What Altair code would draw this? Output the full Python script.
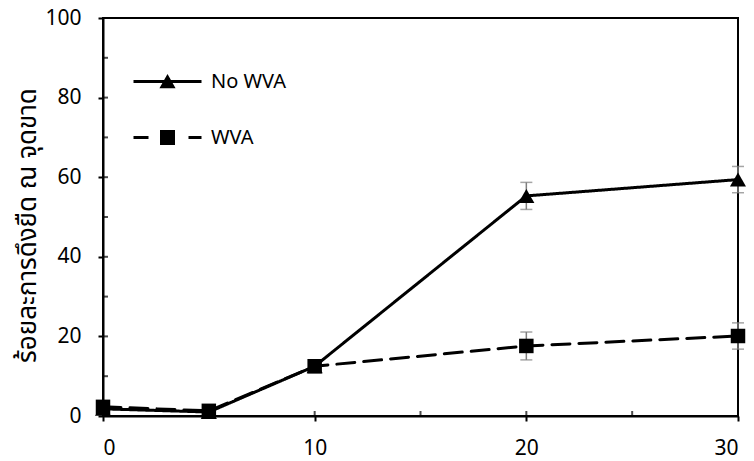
import altair as alt
import pandas as pd

# ---- data ----
x_vals = [0, 5, 10, 20, 30]
series_names = ["No WVA", "WVA"]
no_wva = [1.8, 1.0, 12.5, 55.3, 59.4]
no_wva_err = [0.5, 0.4, 1.0, 3.4, 3.3]
wva = [2.3, 1.3, 12.5, 17.6, 20.1]
wva_err = [0.5, 0.4, 1.0, 3.5, 3.3]

x_ticks = [0, 5, 10, 15, 20, 25, 30]
y_ticks = [0, 10, 20, 30, 40, 50, 60, 70, 80, 90, 100]
y_title = "ร้อยละการดึงยืด ณ จุดขาด"

rows = []
for name, vals, errs in [("No WVA", no_wva, no_wva_err), ("WVA", wva, wva_err)]:
    for xv, v, e in zip(x_vals, vals, errs):
        rows.append({"x": xv, "y": v, "lo": v - e, "hi": v + e, "series": name})
df = pd.DataFrame(rows)
xt_df = pd.DataFrame({"x": x_ticks})
yt_df = pd.DataFrame({"y": y_ticks})

W, H = 635, 398
FONT = "Noto Sans"
THAI_FONT = "Noto Sans Thai, Noto Sans Thai UI, Loma, Garuda, Noto Sans, sans-serif"

x_enc = alt.X(
    "x:Q",
    scale=alt.Scale(domain=[0, 30], nice=False),
    axis=alt.Axis(
        values=x_ticks,
        title=None,
        labelExpr="datum.value % 10 === 0 ? datum.label : ''",
        tickOpacity={"condition": {"test": "datum.value % 10 !== 0", "value": 0}, "value": 1},
        grid=False,
        labelPadding=16,
    ),
)
y_enc = alt.Y(
    "y:Q",
    scale=alt.Scale(domain=[0, 100], nice=False),
    axis=alt.Axis(
        values=y_ticks,
        title=y_title,
        titleFont=THAI_FONT,
        titleFontSize=26,
        titleFontWeight="normal",
        titlePadding=4,
        titleY=207,
        labelExpr="datum.value % 20 === 0 ? datum.label : ''",
        tickOpacity={"condition": {"test": "datum.value % 20 !== 0", "value": 0}, "value": 1},
        grid=False,
        labelPadding=17,
    ),
)

base = alt.Chart(df)

# inner tick stubs (Excel style: major ticks cross the axis, minor ticks inside)
x_inner = alt.Chart(xt_df).mark_tick(
    color="black", thickness=2, size=5, orient="vertical", yOffset=-2.5
).encode(x=x_enc, y=alt.datum(0))
y_inner = alt.Chart(yt_df).mark_tick(
    color="black", thickness=2, size=5, orient="horizontal", xOffset=2.5
).encode(y=y_enc, x=alt.datum(0))

err_rule = base.mark_rule(color="#7f7f7f", strokeWidth=1.5).encode(
    x="x:Q", y="lo:Q", y2="hi:Q"
)
cap_lo = base.mark_tick(color="#7f7f7f", thickness=1.5, size=12, orient="horizontal").encode(
    x="x:Q", y="lo:Q"
)
cap_hi = base.mark_tick(color="#7f7f7f", thickness=1.5, size=12, orient="horizontal").encode(
    x="x:Q", y="hi:Q"
)

lines = base.mark_line(color="black", strokeWidth=3, strokeCap="round").encode(
    x="x:Q",
    y="y:Q",
    strokeDash=alt.StrokeDash(
        "series:N",
        scale=alt.Scale(domain=series_names, range=[[1, 0], [18, 9]]),
        legend=None,
    ),
)

points = base.mark_point(filled=True, opacity=1, color="black").encode(
    x="x:Q",
    y="y:Q",
    shape=alt.Shape(
        "series:N",
        scale=alt.Scale(domain=series_names, range=["triangle-up", "square"]),
        legend=None,
    ),
    size=alt.Size(
        "series:N",
        scale=alt.Scale(domain=series_names, range=[260, 210]),
        legend=None,
    ),
)

# legend symbols: line (solid / dashed) with a marker, drawn with strokes only
legend_paths = [
    "M-3.4,0L3.4,0"
    "M0,-0.45L0.55,0.52L-0.55,0.52Z"
    "M-0.17,-0.15L0.17,-0.15M-0.31,0.1L0.31,0.1M-0.45,0.35L0.45,0.35",
    "M-3.4,0L-1.9,0M2.1,0L3.4,0"
    "M-0.6,-0.6L0.6,-0.6L0.6,0.6L-0.6,0.6Z"
    "M-0.6,-0.3L0.6,-0.3M-0.6,0L0.6,0M-0.6,0.3L0.6,0.3",
]
legend_layer = base.mark_point(
    filled=False, stroke="black", strokeWidth=3, opacity=0
).encode(
    x="x:Q",
    y="y:Q",
    shape=alt.Shape(
        "series:N",
        scale=alt.Scale(domain=series_names, range=legend_paths),
        legend=alt.Legend(
            title=None,
            orient="none",
            legendX=53,
            legendY=52,
            symbolSize=400,
            symbolStrokeWidth=3,
            symbolStrokeColor="black",
            symbolOpacity=1,
            labelFont=FONT,
            labelFontSize=20,
            labelColor="black",
            labelOffset=32,
            rowPadding=32,
            padding=0,
        ),
    ),
)

chart = (
    alt.layer(x_inner, y_inner, err_rule, cap_lo, cap_hi, lines, points, legend_layer)
    .resolve_scale(shape="independent")
    .properties(
        width=W,
        height=H,
        autosize=alt.AutoSizeParams(type="none"),
        padding={"left": 95, "top": 10, "right": 8, "bottom": 45},
        background="white",
    )
    .configure_view(stroke="black", strokeWidth=2)
    .configure_axis(
        domainColor="black",
        domainWidth=2,
        tickColor="black",
        tickWidth=2,
        tickSize=5,
        labelFont=FONT,
        labelFontSize=21,
        labelColor="black",
        titleColor="black",
    )
)

chart.save("out.html", embed_options={"renderer": "svg", "actions": False})
